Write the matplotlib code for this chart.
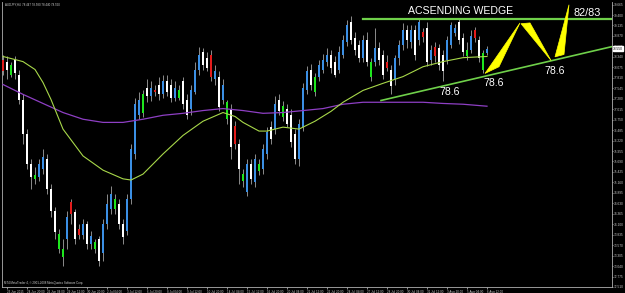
import numpy as np
import matplotlib
matplotlib.use('Agg')
import matplotlib.pyplot as plt
from matplotlib.patches import Polygon

# AUDJPY H4 candles (one entry per bar)
opens = [78.27, 78.22, 77.89, 78.27, 77.89, 77.26, 76.38, 75.62, 75.25, 75.30,
         75.50, 75.75, 75.00, 74.44, 73.48, 73.28, 73.73, 74.67, 74.42, 73.99,
         73.84, 74.11, 73.61, 73.48, 73.73, 73.36, 74.11, 74.49, 74.49, 74.62,
         74.11, 73.94, 74.74, 75.88, 76.88, 76.93, 77.56, 77.34, 77.51, 77.64,
         77.39, 77.72, 77.64, 77.31, 77.31, 77.72, 77.26, 77.01, 77.46, 78.02,
         78.47, 78.32, 78.40, 77.77, 77.82, 77.26, 76.76, 77.01, 76.58, 76.13,
         75.20, 74.92, 75.62, 75.17, 75.45, 75.50, 75.88, 76.56, 76.51, 77.26,
         76.81, 77.01, 76.88, 76.38, 75.75, 76.56, 77.51, 78.02, 77.44, 77.82,
         78.02, 78.22, 78.40, 78.22, 78.02, 78.40, 78.72, 79.23, 78.83, 78.65,
         78.32, 78.78, 77.82, 78.20, 78.57, 78.40, 78.22, 78.02, 77.77, 78.32,
         78.65, 79.03, 78.72, 79.03, 78.78, 78.98, 79.08, 78.27, 78.60, 78.57,
         78.40, 78.27, 78.65, 78.95, 79.23, 78.83, 78.37, 78.52, 79.03, 78.78,
         78.02, 78.45]
highs = [78.40, 78.35, 78.22, 78.35, 78.02, 77.39, 76.51, 75.75, 75.55, 75.75,
         76.00, 75.88, 75.12, 74.54, 73.99, 73.73, 74.44, 74.74, 74.49, 74.11,
         74.24, 74.19, 73.94, 73.73, 73.81, 74.24, 74.87, 75.07, 74.87, 74.74,
         74.24, 74.87, 76.13, 77.31, 77.44, 77.51, 77.77, 77.72, 77.64, 77.82,
         77.89, 77.87, 77.77, 77.72, 77.64, 77.82, 77.39, 77.64, 78.22, 78.60,
         78.57, 78.47, 78.52, 78.14, 77.97, 77.77, 77.26, 77.14, 76.71, 76.26,
         75.50, 75.75, 75.75, 75.88, 75.75, 76.13, 76.56, 76.71, 77.34, 77.39,
         77.21, 77.14, 77.01, 76.51, 76.76, 77.67, 78.12, 78.17, 77.92, 78.27,
         78.42, 78.57, 78.52, 78.35, 78.62, 78.90, 79.28, 79.38, 78.98, 78.78,
         78.90, 78.98, 78.32, 79.08, 78.72, 78.52, 78.40, 78.14, 78.40, 78.78,
         79.20, 79.15, 79.15, 79.15, 79.33, 79.08, 79.23, 78.65, 78.72, 78.67,
         78.52, 78.87, 79.23, 79.18, 79.30, 78.95, 78.72, 79.03, 79.10, 78.87,
         78.52, 78.62]
lows = [77.89, 77.77, 77.82, 77.77, 77.14, 76.13, 75.50, 75.00, 75.12, 75.20,
        75.37, 74.87, 74.29, 73.73, 73.36, 73.03, 73.48, 74.11, 73.61, 73.73,
        73.73, 73.48, 73.48, 73.36, 73.03, 73.18, 73.99, 74.36, 74.36, 73.99,
        73.61, 73.84, 74.62, 75.75, 76.76, 76.81, 77.19, 77.21, 77.34, 77.26,
        77.31, 77.36, 77.19, 77.21, 77.26, 77.01, 76.76, 76.88, 77.39, 77.89,
        78.02, 77.97, 77.72, 77.64, 76.96, 77.14, 76.63, 75.75, 76.00, 75.12,
        75.05, 74.82, 75.12, 75.05, 75.35, 75.37, 75.75, 76.13, 76.38, 76.86,
        76.71, 76.56, 76.05, 75.62, 75.57, 76.46, 77.39, 77.51, 77.36, 77.72,
        77.92, 78.12, 77.94, 77.82, 77.92, 78.32, 78.62, 78.67, 78.40, 78.22,
        78.22, 78.12, 77.72, 78.12, 78.14, 77.77, 77.97, 77.39, 77.64, 78.14,
        78.52, 78.57, 78.57, 78.27, 78.65, 78.72, 78.12, 78.14, 78.22, 78.02,
        77.72, 78.17, 78.57, 78.87, 78.67, 78.37, 78.27, 78.45, 78.72, 78.22,
        77.92, 78.40]
closes = [77.97, 78.02, 78.14, 77.94, 77.26, 76.38, 75.62, 75.30, 75.35, 75.62,
          75.80, 75.00, 74.44, 73.91, 73.86, 73.48, 74.29, 74.36, 73.73, 73.84,
          74.11, 73.61, 73.81, 73.66, 73.18, 74.11, 74.62, 74.87, 74.74, 74.11,
          73.78, 74.74, 76.00, 77.14, 77.26, 77.39, 77.34, 77.56, 77.44, 77.39,
          77.72, 77.46, 77.31, 77.56, 77.51, 77.14, 76.88, 77.51, 78.02, 78.40,
          78.14, 78.07, 77.82, 77.97, 77.06, 77.64, 77.19, 76.05, 76.13, 75.50,
          75.37, 75.62, 75.25, 75.75, 75.62, 76.00, 76.43, 76.26, 77.14, 76.96,
          77.09, 76.63, 76.18, 75.75, 76.63, 77.56, 77.97, 77.64, 77.82, 78.14,
          78.27, 78.40, 78.07, 77.89, 78.47, 78.78, 79.15, 78.78, 78.52, 78.32,
          78.78, 78.22, 78.20, 78.57, 78.27, 77.89, 78.07, 77.59, 78.32, 78.65,
          79.03, 78.78, 79.03, 78.40, 79.23, 78.85, 78.22, 78.52, 78.35, 78.14,
          77.97, 78.78, 79.15, 79.08, 78.78, 78.47, 78.52, 78.87, 78.83, 78.32,
          78.45, 78.55]
# bar colouring used by the terminal template: w/b normal, g/r highlighted
bar_kind = ("rwgwwwwwgb" "bwwwggbrwr" "bwbgwbbbgw" "wbbbbgwbrw" "bwwbgwwbbb"
            "wwrbwbgwrw" "gbwbgbbwbw" "gwwwbbbwgb" "bbwwbbbwww" "bwgbwwrwbb"
            "bwbwbrwbrw" "wbbbwwgbrw" "gb")

# moving averages sampled along the chart
ma_fast_bar = [0, 5, 8, 10, 12, 15, 20, 25, 30, 32, 35, 40, 45, 50, 55, 58, 60,
               64, 66, 70, 74, 78, 82, 85, 90, 95, 100, 105, 110, 115, 121]
ma_fast = [78.35, 78.22, 78.02, 77.69, 77.26, 76.51, 75.83, 75.47, 75.25, 75.22,
           75.37, 75.88, 76.35, 76.71, 76.93, 76.83, 76.68, 76.46, 76.46, 76.56,
           76.51, 76.71, 76.96, 77.19, 77.49, 77.67, 77.84, 78.09, 78.22, 78.32,
           78.35]
ma_slow_bar = [0, 5, 10, 15, 20, 25, 30, 35, 40, 45, 50, 55, 60, 65, 70, 75, 80,
               85, 90, 95, 100, 105, 110, 115, 121]
ma_slow = [77.64, 77.39, 77.16, 76.93, 76.76, 76.68, 76.68, 76.76, 76.86, 76.91,
           76.98, 77.03, 76.98, 76.91, 76.93, 76.98, 77.03, 77.14, 77.19, 77.19,
           77.19, 77.19, 77.16, 77.14, 77.09]

price_ticks = [72.510, 72.775, 73.040, 73.305, 73.570, 73.835, 74.100, 74.365,
               74.630, 74.895, 75.160, 75.425, 75.690, 75.955, 76.220, 76.485,
               76.750, 77.015, 77.280, 77.545, 77.810, 78.075, 78.340, 78.605,
               78.870, 79.135, 79.400, 79.665]
date_labels = ["23 Jun 2015", "24 Jun 20:00", "26 Jun 04:00", "29 Jun 12:00",
               "30 Jun 20:00", "2 Jul 04:00", "3 Jul 12:00", "6 Jul 20:00",
               "8 Jul 04:00", "9 Jul 12:00", "10 Jul 20:00", "14 Jul 04:00",
               "15 Jul 12:00", "16 Jul 20:00", "20 Jul 04:00", "21 Jul 12:00",
               "22 Jul 20:00", "24 Jul 04:00", "27 Jul 12:00", "28 Jul 20:00",
               "30 Jul 04:00", "31 Jul 12:00", "3 Aug 20:00", "5 Aug 04:00",
               "6 Aug 12:00"]

# wedge drawn by hand: resistance, rising support, projected zigzag
resist_level = 79.30
support_pts = [(94.5, 77.235), (152.25, 78.60)]
zigzag = [[(120.5, 77.92), (124.0, 78.09), (129.25, 79.20)],
          [(129.5, 79.18), (131.75, 79.20), (137.0, 78.25)],
          [(138.0, 78.34), (140.25, 78.40), (141.5, 79.66)]]

fig = plt.figure(figsize=(6.25, 2.93), dpi=100, facecolor='black')
ax = fig.add_axes([2/625, 6/293, 610/625, 285/293], facecolor='black')

n = len(closes)
xs = np.arange(n)
o = np.array(opens)
c = np.array(closes)
colors = {'w': '#ffffff', 'b': '#3b8fe4', 'g': '#1ee61e', 'r': '#e31c1c'}
ax.vlines(xs, lows, highs, color='#8c8c8c', lw=0.7, zorder=2)
bottoms = np.minimum(o, c)
heights = np.maximum(np.abs(c - o), 0.025)
ax.bar(xs, heights, bottom=bottoms, width=0.7,
       color=[colors[k] for k in bar_kind], linewidth=0, zorder=3)

ax.plot(ma_slow_bar, ma_slow, color='#8e3fc4', lw=0.9, zorder=4)
ax.plot(ma_fast_bar, ma_fast, color='#a8d84a', lw=0.8, zorder=4)

ax.plot([90, 152.25], [resist_level, resist_level], color='#6fd04a', lw=1.6, zorder=5)
ax.plot([p[0] for p in support_pts], [p[1] for p in support_pts],
        color='#6fd04a', lw=1.2, zorder=5)
for tri in zigzag:
    ax.add_patch(Polygon(tri, closed=True, facecolor='#ffff00',
                         edgecolor='#ffff00', lw=0.5, zorder=6))

txt = dict(color='white', family='Liberation Sans', zorder=7)
ax.text(101.25, 79.50, "ACSENDING WEDGE", fontsize=7.6, va='center', **txt)
ax.text(142.5, 79.45, "82/83", fontsize=7.8, va='center', **txt)
ax.text(111.75, 77.46, "78.6", fontsize=7.6, ha='center', va='center', **txt)
ax.text(122.75, 77.67, "78.6", fontsize=7.6, ha='center', va='center', **txt)
ax.text(138.0, 77.97, "78.6", fontsize=7.6, ha='center', va='center', **txt)

ax.set_xlim(-0.25, 152.25)
ax.set_ylim(72.51, 79.73)

ax.yaxis.tick_right()
ax.set_yticks(price_ticks)
ax.set_yticklabels(['%.3f' % p for p in price_ticks], family='Liberation Sans')
ax.set_xticks(np.arange(1, n + 1, 5)[:len(date_labels)])
ax.set_xticklabels(date_labels, ha='left', family='Liberation Sans')
ax.tick_params(axis='y', colors='#c8c8c8', labelsize=2.3, length=1.0, width=0.5, pad=0.5)
ax.tick_params(axis='x', colors='#c8c8c8', labelsize=2.2, length=1.5, width=0.5, pad=0.4)
for s in ax.spines.values():
    s.set_color('#b0b0b0')
    s.set_linewidth(0.6)
ax.spines['top'].set_visible(False)

# current price marker on the scale
ax.text(1.002, closes[-1], '%.3f' % closes[-1], transform=ax.get_yaxis_transform(),
        fontsize=2.3, color='black', va='center', ha='left', clip_on=False,
        family='Liberation Sans',
        bbox=dict(boxstyle='square,pad=0.12', fc='white', ec='white'))

fig.text(5/625, 1 - 4.5/293, "AUDJPY,H4  78.447 78.580 78.440 78.550",
         fontsize=2.1, color='#d0d0d0', va='center', family='Liberation Sans')
fig.text(4/625, 10/293, "MT4 MetaTrader 4, \u00a9 2001-2008 MetaQuotes Software Corp.",
         fontsize=2.1, color='#d0d0d0', va='center', family='Liberation Sans')

fig.savefig('out.png', dpi=100, facecolor='black')
